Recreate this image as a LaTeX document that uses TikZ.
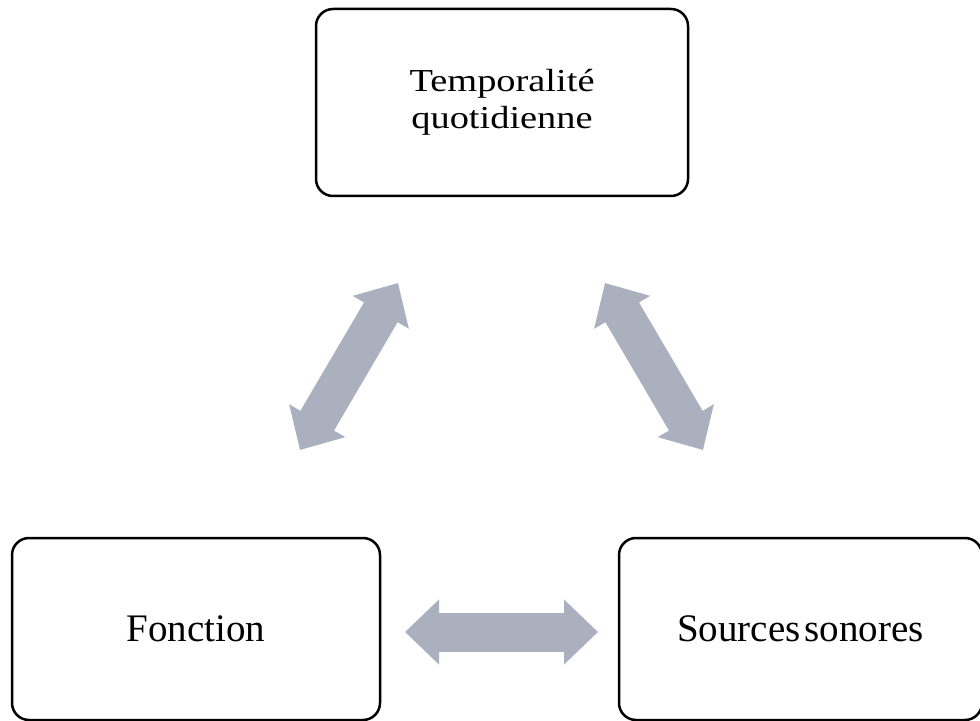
\documentclass[tikz,border=0pt]{standalone}
\usepackage{fontspec}
\setmainfont{Liberation Serif}[WordSpace=0.4]
\newfontfamily\widefont{Liberation Serif}[FakeStretch=1.2]
\usetikzlibrary{arrows.meta}
\definecolor{slate}{RGB}{171,176,191}

\begin{document}
\begin{tikzpicture}[x=0.5pt, y=-0.5pt,
  box/.style={draw, line width=1.25pt, rounded corners=8.5pt, align=center,
    font=\fontsize{19.5pt}{22pt}\selectfont},
  link/.style={draw=slate, line width=19.5pt,
    {Triangle[length=17pt, width=31.5pt]}-{Triangle[length=17pt, width=31.5pt]}}]
\useasboundingbox (0,0) rectangle (980,721);
\node[box, minimum width=186pt, minimum height=93.5pt, font=\widefont\fontsize{16pt}{18.5pt}\selectfont] (temp) at (502,102.5) {Temporalité\\quotidienne};
\node[box, minimum width=184pt, minimum height=91pt] (fonc) at (196,629) {Fonction};
\node[box, minimum width=181.5pt, minimum height=91pt] (src) at (800.5,629) {Sources sonores};
\coordinate (l1) at (398,283);
\coordinate (l2) at (300,450);
\coordinate (r1) at (605,283);
\coordinate (r2) at (703,450);
\coordinate (h1) at (405,632);
\coordinate (h2) at (598,632);
\draw[link] (l1) -- (l2);
\draw[link] (r1) -- (r2);
\draw[link] (h1) -- (h2);
\end{tikzpicture}
\end{document}
